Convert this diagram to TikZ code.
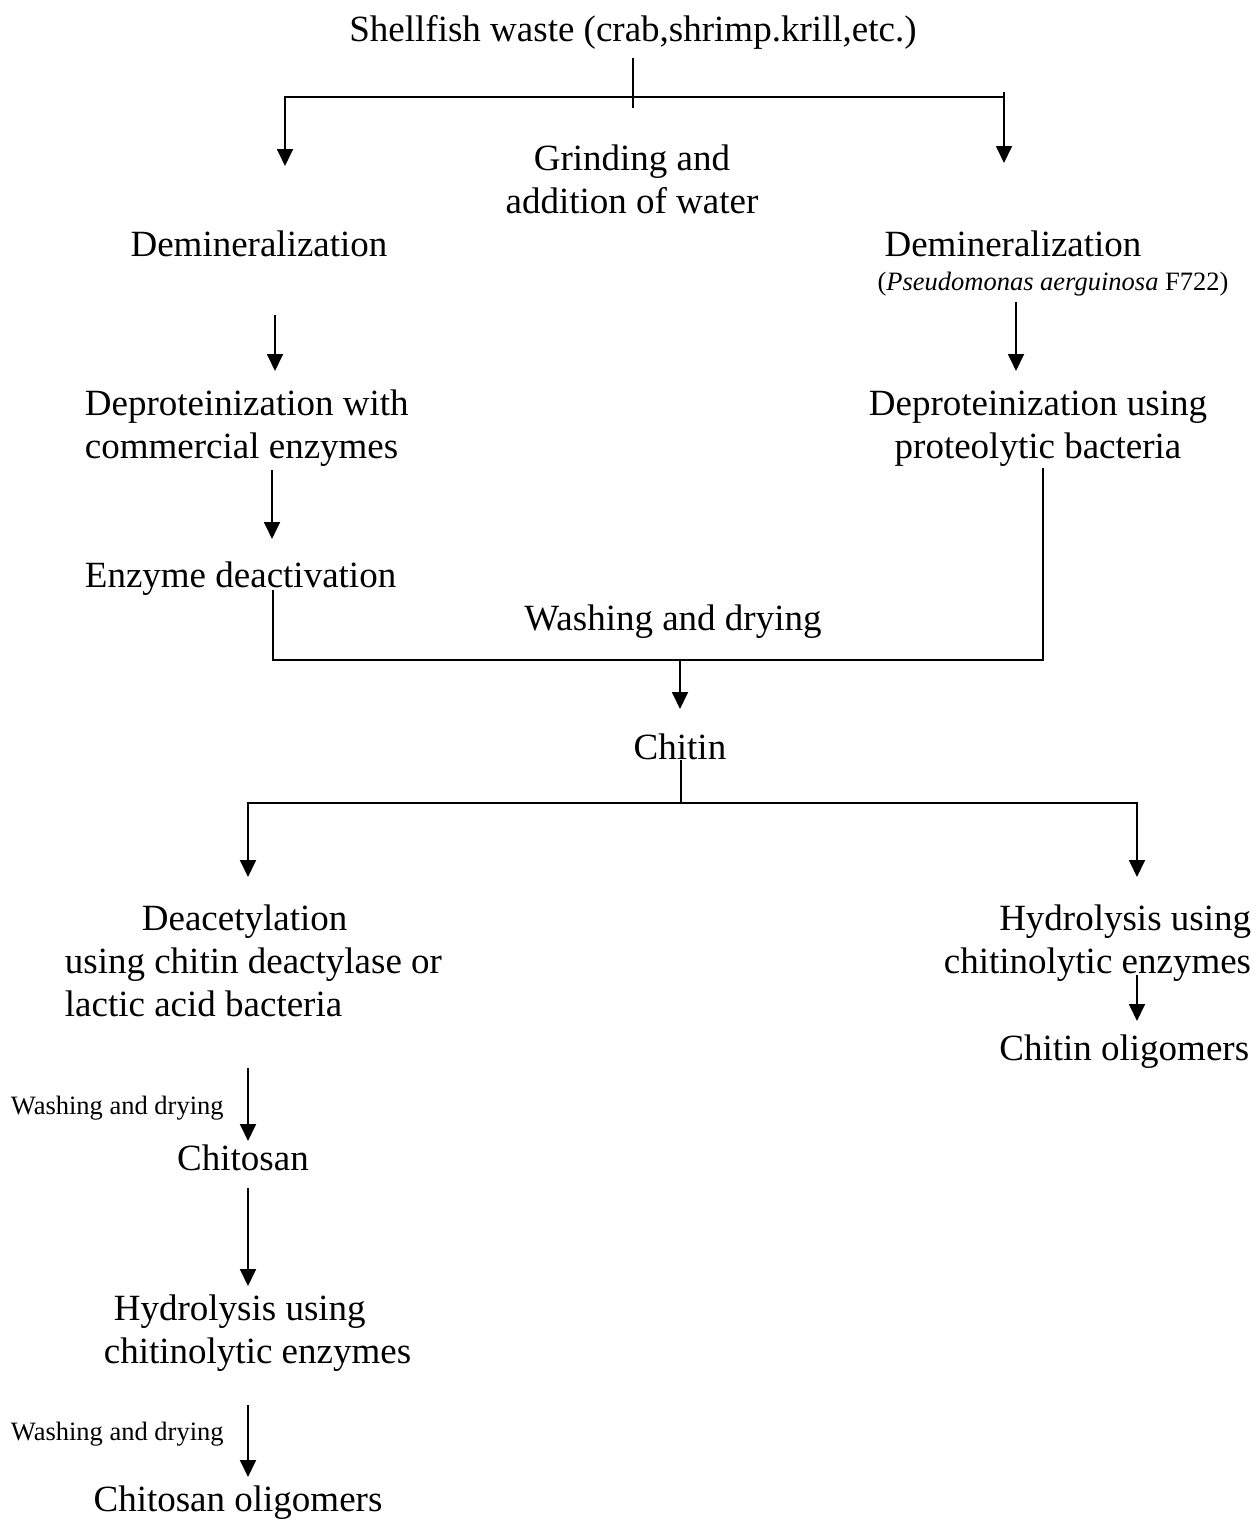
\documentclass[tikz,border=0pt]{standalone}
\usepackage{fontspec}
\setmainfont{Liberation Serif}
\usetikzlibrary{arrows.meta}
\begin{document}
\begin{tikzpicture}[x=1pt,y=-1pt,line width=1.8pt,
  arr/.style={-{Triangle[width=16pt,length=17pt]}},
  big/.style={font=\fontsize{37}{43}\selectfont,inner sep=0pt},
  small/.style={font=\fontsize{26.5}{31}\selectfont,inner sep=0pt}]
\useasboundingbox (0,0) rectangle (1259,1529);

% Raw material and first split
\node[big] (waste) at (633,32) {Shellfish waste (crab,shrimp.krill,etc.)};
\node[big,align=center] (grind) at (632,179) {Grinding and\\addition of water};
\coordinate (wasteOut) at (633,58);
\coordinate (wasteEnd) at (633,108);
\coordinate (splitL) at (285,97);
\coordinate (splitR) at (1004,97);
\coordinate (stubR) at (1004,92);
\coordinate (inDemL) at (285,166);
\coordinate (inDemR) at (1004,163);
\draw (wasteOut) -- (wasteEnd);
\draw[arr] (splitR) -- (splitL) -- (inDemL);
\draw[arr] (stubR) -- (inDemR);

% Left branch: enzymes
\node[big] (demL) at (259,244) {Demineralization};
\node[big,anchor=west,align=left] (depL) at (84,428) {Deproteinization with\\commercial enzymes};
\node[big,anchor=west] (deact) at (84,579) {Enzyme deactivation};
\coordinate (demLout) at (275,315);
\coordinate (depLin) at (275,371);
\coordinate (depLout) at (272,470);
\coordinate (deactIn) at (272,539);
\draw[arr] (demLout) -- (depLin);
\draw[arr] (depLout) -- (deactIn);

% Right branch: bacteria
\node[big] (demR) at (1013,244) {Demineralization};
\node[small] (strain) at (1053,284) {(\textit{Pseudomonas aerguinosa} F722)};
\node[big,align=center] (depR) at (1038,429) {Deproteinization using\\proteolytic bacteria};
\coordinate (demRout) at (1016,302);
\coordinate (depRin) at (1016,371);
\draw[arr] (demRout) -- (depRin);

% Merge into chitin
\node[big] (wash) at (673,622) {Washing and drying};
\node[big] (chitin) at (680,747) {Chitin};
\coordinate (deactOut) at (273,590);
\coordinate (mergeL) at (273,660);
\coordinate (mergeR) at (1043,660);
\coordinate (depRout) at (1043,468);
\coordinate (mergeC) at (680,660);
\coordinate (chitinIn) at (680,709);
\draw (deactOut) -- (mergeL) -- (mergeR) -- (depRout);
\draw[arr] (mergeC) -- (chitinIn);

% Second split
\coordinate (chitinOut) at (681,760);
\coordinate (split2) at (681,803);
\coordinate (split2L) at (248,803);
\coordinate (split2R) at (1137,803);
\coordinate (inDeac) at (248,877);
\coordinate (inHydR) at (1137,877);
\draw (chitinOut) -- (split2);
\draw[arr] (split2) -- (split2L) -- (inDeac);
\draw[arr] (split2) -- (split2R) -- (inHydR);

% Right: chitin oligomers
\node[big,anchor=east,align=right] (hydR) at (1252,943) {Hydrolysis using\\chitinolytic enzymes};
\node[big,anchor=east] (oligoR) at (1250,1052) {Chitin oligomers};
\coordinate (hydRout) at (1137,975);
\coordinate (oligoRin) at (1137,1021);
\draw[arr] (hydRout) -- (oligoRin);

% Left: chitosan and its oligomers
\node[big,anchor=west,align=left] (deac) at (64,961) {\hspace*{77pt}Deacetylation\\using chitin deactylase or\\lactic acid bacteria};
\node[small,anchor=west] (washA) at (10,1108) {Washing and drying};
\node[big] (chitosan) at (243,1158) {Chitosan};
\node[big,anchor=west,align=left] (hydL) at (103,1333) {\hspace*{10pt}Hydrolysis using\\chitinolytic enzymes};
\node[small,anchor=west] (washB) at (10,1434) {Washing and drying};
\node[big] (oligoL) at (238,1503) {Chitosan oligomers};
\coordinate (deacOut) at (248,1068);
\coordinate (chitosanIn) at (248,1141);
\coordinate (chitosanOut) at (248,1188);
\coordinate (hydLin) at (248,1286);
\coordinate (hydLout) at (248,1405);
\coordinate (oligoLin) at (248,1477);
\draw[arr] (deacOut) -- (chitosanIn);
\draw[arr] (chitosanOut) -- (hydLin);
\draw[arr] (hydLout) -- (oligoLin);
\end{tikzpicture}
\end{document}
